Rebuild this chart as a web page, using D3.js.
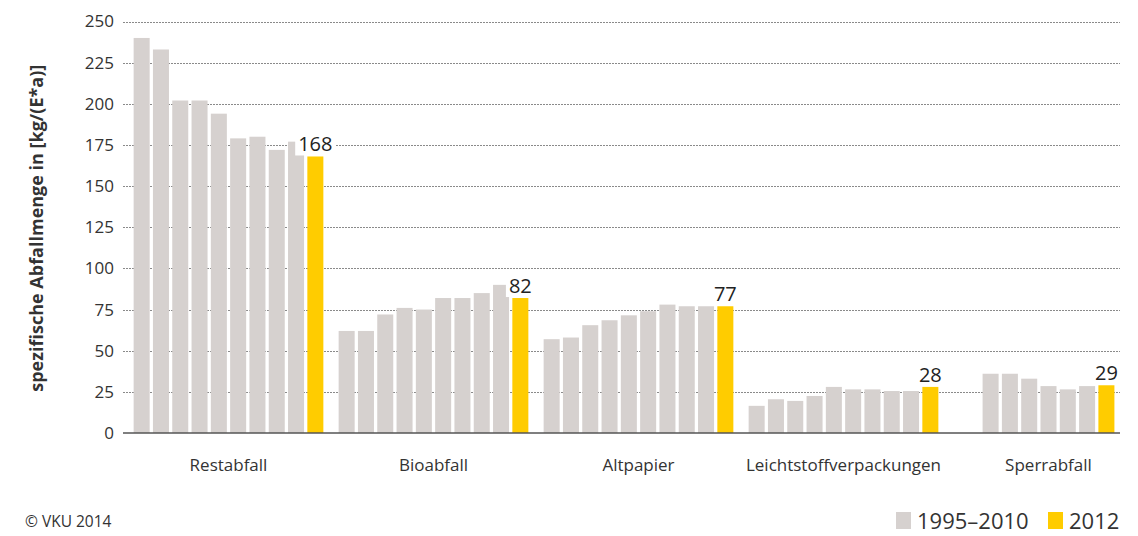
<!DOCTYPE html>
<html>
<head>
<meta charset="utf-8">
<script src="https://cdn.jsdelivr.net/npm/d3@7"></script>
<style>
  html, body { margin: 0; padding: 0; background: #fff; }
  svg { display: block; font-family: "Open Sans", "Noto Sans", sans-serif; }
</style>
</head>
<body>
<svg id="chart" width="1138" height="536"></svg>
<script>
// Waste fractions (per inhabitant and year)
const categories = ["Restabfall", "Bioabfall", "Altpapier", "Leichtstoffverpackungen", "Sperrabfall"];
// 1995–2010 series per fraction (grey bars)
const restabfall1995_2010 = [240, 233, 202, 202, 194, 179, 180, 172, 177];
const bioabfall1995_2010 = [62, 62, 72, 76, 75, 82, 82, 85, 90];
const altpapier1995_2010 = [57, 58, 65.5, 68.5, 71.5, 74, 78, 77, 77];
const lvp1995_2010 = [16.5, 20.5, 19.5, 22.5, 28, 26.5, 26.5, 25.5, 25.5];
const sperrabfall1995_2010 = [36, 36, 33, 28.5, 26.5, 28.5];
// 2012 values (yellow bars, labelled)
const values2012 = [168, 82, 77, 28, 29];
const yTicks = [0, 25, 50, 75, 100, 125, 150, 175, 200, 225, 250];
const legendLabels = ["1995–2010", "2012"];

const history = [restabfall1995_2010, bioabfall1995_2010, altpapier1995_2010, lvp1995_2010, sperrabfall1995_2010];

const GREY = "#d6d1cf";
const YELLOW = "#ffcc00";
const TEXT = "#333333";

const svg = d3.select("#chart");

const y = d3.scaleLinear().domain([0, 250]).range([433, 21.5]);
const x = d3.scaleBand().domain(categories).range([126, 1151]).padding(0);
const barStep = 19.3;

const plotLeft = 123, plotRight = 1120;

// dotted grid lines
svg.append("g")
  .selectAll("line")
  .data(yTicks.filter(t => t > 0))
  .join("line")
  .attr("x1", plotLeft).attr("x2", plotRight)
  .attr("y1", d => Math.round(y(d)) + 0.5).attr("y2", d => Math.round(y(d)) + 0.5)
  .attr("stroke", "#8a8a8a")
  .attr("stroke-width", 1)
  .attr("stroke-dasharray", "2,1");

// y axis tick labels
const yAxis = d3.axisLeft(y).tickValues(yTicks).tickSize(0).tickPadding(0);
const yg = svg.append("g").attr("transform", `translate(${plotLeft - 9},0)`).call(yAxis);
yg.select(".domain").remove();
yg.selectAll("text")
  .attr("fill", TEXT)
  .style("font-size", "17px")
  .style("font-family", "'Open Sans', sans-serif");

// y axis title
svg.append("text")
  .attr("transform", `translate(43,${(y(0) + y(250)) / 2 + 1}) rotate(-90)`)
  .attr("text-anchor", "middle")
  .attr("fill", TEXT)
  .style("font-size", "18px")
  .style("font-weight", "bold")
  .text("spezifische Abfallmenge in [kg/(E*a)]");

// bars per fraction
categories.forEach((cat, i) => {
  const vals = history[i].map((v, j) => ({ v, latest: false, k: j }))
    .concat([{ v: values2012[i], latest: true, k: history[i].length }]);
  const n = vals.length;
  const cx = x(cat) + x.bandwidth() / 2;
  const inner = d3.scaleBand()
    .domain(d3.range(n))
    .range([cx - n * barStep / 2, cx + n * barStep / 2])
    .paddingInner(0.17)
    .paddingOuter(0.085);

  const g = svg.append("g");
  g.selectAll("rect")
    .data(vals)
    .join("rect")
    .attr("x", d => inner(d.k))
    .attr("width", inner.bandwidth())
    .attr("y", d => y(d.v))
    .attr("height", d => y(0) - y(d.v))
    .attr("fill", d => d.latest ? YELLOW : GREY);

  // value label with white backing
  const last = vals[n - 1];
  const lx = inner(last.k) + inner.bandwidth() / 2;
  const label = g.append("text")
    .attr("x", lx)
    .attr("y", y(last.v) - 5)
    .attr("text-anchor", "middle")
    .attr("fill", "#222")
    .style("font-size", "20px")
    .text(last.v);
  const bb = label.node().getBBox();
  g.insert("rect", "text")
    .attr("x", bb.x - 3)
    .attr("y", bb.y + 2)
    .attr("width", bb.width + 6)
    .attr("height", y(last.v) - bb.y - 3)
    .attr("fill", "#fff");

  // category label
  svg.append("text")
    .attr("x", cx)
    .attr("y", 471)
    .attr("text-anchor", "middle")
    .attr("fill", TEXT)
    .style("font-size", "17px")
    .text(cat);
});

// x axis baseline
svg.append("line")
  .attr("x1", plotLeft).attr("x2", plotRight)
  .attr("y1", y(0)).attr("y2", y(0))
  .attr("stroke", "#555")
  .attr("stroke-width", 1.5);

// source note
svg.append("text")
  .attr("x", 25).attr("y", 527)
  .attr("fill", TEXT)
  .style("font-size", "15.5px")
  .text("© VKU 2014");

// legend
const legend = svg.append("g");
const legendItems = [
  { label: legendLabels[0], color: GREY, x: 896 },
  { label: legendLabels[1], color: YELLOW, x: 1048 }
];
legendItems.forEach(it => {
  legend.append("rect")
    .attr("x", it.x).attr("y", 512)
    .attr("width", 15).attr("height", 17)
    .attr("fill", it.color);
  legend.append("text")
    .attr("x", it.x + 21).attr("y", 529)
    .attr("fill", TEXT)
    .style("font-size", "22px")
    .text(it.label);
});
</script>
</body>
</html>
